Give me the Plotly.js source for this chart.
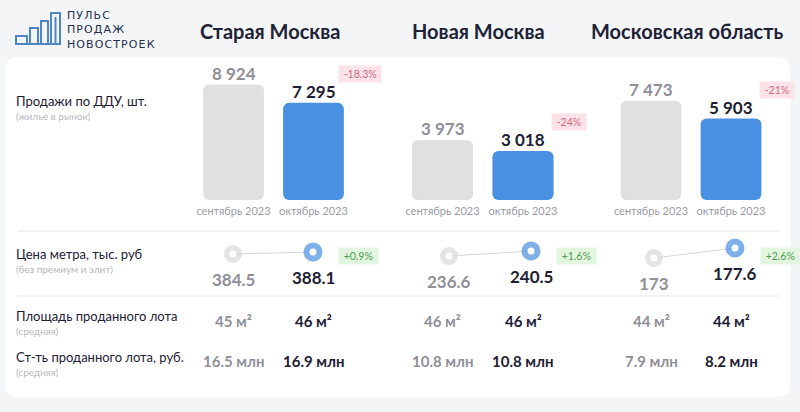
<!DOCTYPE html>
<html>
<head>
<meta charset="utf-8">
<script src="https://cdn.plot.ly/plotly-3.0.1.min.js"></script>
<style>
  body { margin: 0; background: #f4f5f7; }
  #chart { width: 800px; height: 412px; }
</style>
</head>
<body>
<div id="chart"></div>
<script>
var groups = ['Старая Москва', 'Новая Москва', 'Московская область'];
var months = ['сентябрь 2023', 'октябрь 2023'];
var sales = [[8924, 7295], [3973, 3018], [7473, 5903]];
var salesChange = ['-18.3%', '-24%', '-21%'];
var price = [[384.5, 388.1], [236.6, 240.5], [173, 177.6]];
var priceChange = ['+0.9%', '+1.6%', '+2.6%'];
var area = [[45, 46], [46, 46], [44, 44]];
var lotCost = [[16.5, 16.9], [10.8, 10.8], [7.9, 8.2]];
var rowLabels = ['Продажи по ДДУ, шт.', 'Цена метра, тыс. руб', 'Площадь проданного лота', 'Ст-ть проданного лота, руб.'];
var rowNotes = ['(жилье в рынок)', '(без премиум и элит)', '(средняя)', '(средняя)'];
var logoLines = ['ПУЛЬС', 'ПРОДАЖ', 'НОВОСТРОЕК'];

var W = 800, H = 412;
function px(x) { return x / W; }
function py(y) { return 1 - y / H; }
function thousands(v) { return String(v).replace(/\B(?=(\d{3})+(?!\d))/g, ' '); }

var FONT = 'Lato, "Open Sans", sans-serif';
var DARK = '#1d2034', GREY = '#8f8f98', NOTE = '#b7b7bf';
var BAR_GREY = '#e0e0e0', BLUE = '#4a90e2';
var PAD = 1350; // bars start a bit below zero so the small ones still show

var barX = ['x', 'x2', 'x3'];
var priceX = ['x4', 'x5', 'x6'];
var priceY = ['y4', 'y5', 'y6'];

var data = [];
var annotations = [];

// every text is anchored explicitly, paper refs otherwise pick top/bottom on their own
function note(o) {
    o.showarrow = false;
    if (!o.xanchor) o.xanchor = 'center';
    if (!o.yanchor) o.yanchor = 'middle';
    annotations.push(o);
}

groups.forEach(function(name, i) {
    data.push({
        type: 'bar',
        x: months,
        y: sales[i].map(function(v) { return v + PAD; }),
        base: -PAD,
        xaxis: barX[i],
        yaxis: 'y',
        marker: { color: [BAR_GREY, BLUE], cornerradius: 6 },
        hoverinfo: 'skip'
    });

    data.push({
        type: 'scatter',
        mode: 'lines+markers',
        x: months,
        y: price[i],
        xaxis: priceX[i],
        yaxis: priceY[i],
        cliponaxis: false,
        line: { color: '#d6d6da', width: 1 },
        marker: { size: [12.5, 13], color: '#ffffff', line: { color: ['#d9d9d9', BLUE], width: [5.5, 6] } },
        hoverinfo: 'skip'
    });

    note({
        text: name, xref: barX[i], x: 0.5, xshift: -4, yref: 'paper', y: py(31),
        font: { size: 20, weight: 700, color: '#1e2236' }
    });

    months.forEach(function(m, j) {
        var col = j === 0 ? GREY : DARK;
        note({
            text: thousands(sales[i][j]), xref: barX[i], x: m, yref: 'y', y: sales[i][j],
            yanchor: 'bottom', yshift: -1,
            font: { size: 17, weight: 700, color: col }
        });
        note({
            text: String(price[i][j]), xref: priceX[i], x: m, yref: priceY[i], y: price[i][j],
            yshift: -25, font: { size: 17, weight: 700, color: col }
        });
        note({
            text: area[i][j] + ' м²', xref: barX[i], x: m, yref: 'paper', y: py(321),
            font: { size: 15, weight: 700, color: col }
        });
        note({
            text: lotCost[i][j].toFixed(1) + ' млн', xref: barX[i], x: m, yref: 'paper', y: py(361),
            font: { size: 15, weight: 700, color: col }
        });
    });

    note({
        text: '\u00a0' + salesChange[i] + '\u00a0', xref: barX[i], x: months[1], yref: 'y', y: sales[i][1],
        xshift: 46, yshift: 29, bgcolor: '#fde3e8', borderpad: 2,
        font: { size: 10.5, color: '#d06a82' }
    });
    note({
        text: '\u00a0' + priceChange[i] + '\u00a0', xref: priceX[i], x: months[1], yref: 'paper', y: py(255.5),
        xshift: 45, bgcolor: '#e2f5df', borderpad: 2,
        font: { size: 10.5, color: '#4f9d55' }
    });
});

var labelY = [101, 254, 316, 357];
rowLabels.forEach(function(t, k) {
    note({
        text: t, xref: 'paper', x: px(14), xanchor: 'left', yref: 'paper', y: py(labelY[k]),
        font: { size: 13, color: DARK }
    });
    note({
        text: rowNotes[k], xref: 'paper', x: px(14), xanchor: 'left', yref: 'paper', y: py(labelY[k] + 15),
        font: { size: 10, color: NOTE }
    });
});

// logo words as one block, letters spread a little
note({
    text: logoLines.map(function(t) { return t.split('').join('\u200a'); }).join('<br>'),
    xref: 'paper', x: px(65), xanchor: 'left', yref: 'paper', y: py(30), align: 'left',
    font: { family: '"DejaVu Sans", sans-serif', size: 11, color: '#24304a' }
});

function roundRect(x0, y0, x1, y1, r) {
    function p(x, y) { return px(x) + ',' + py(y); }
    return 'M' + p(x0 + r, y0) + ' L' + p(x1 - r, y0) + ' Q' + p(x1, y0) + ' ' + p(x1, y0 + r) +
        ' L' + p(x1, y1 - r) + ' Q' + p(x1, y1) + ' ' + p(x1 - r, y1) +
        ' L' + p(x0 + r, y1) + ' Q' + p(x0, y1) + ' ' + p(x0, y1 - r) +
        ' L' + p(x0, y0 + r) + ' Q' + p(x0, y0) + ' ' + p(x0 + r, y0) + ' Z';
}

var shapes = [
    { type: 'path', xref: 'paper', yref: 'paper', path: roundRect(5, 57, 790, 397, 14),
      fillcolor: '#ffffff', line: { width: 0 }, layer: 'below' },
    { type: 'line', xref: 'paper', yref: 'paper', x0: px(18), x1: px(780), y0: py(231), y1: py(231),
      line: { color: '#e6e6ea', width: 1 } },
    { type: 'line', xref: 'paper', yref: 'paper', x0: px(18), x1: px(780), y0: py(296), y1: py(296),
      line: { color: '#e6e6ea', width: 1 } }
];

// logo icon
[[16, 27, 36], [30, 38, 28], [41, 48, 21], [51, 60, 13]].forEach(function(b) {
    shapes.push({
        type: 'path', xref: 'paper', yref: 'paper',
        path: 'M' + px(b[0]) + ',' + py(44) + ' L' + px(b[0]) + ',' + py(b[2]) +
              ' L' + px(b[1]) + ',' + py(b[2]) + ' L' + px(b[1]) + ',' + py(44),
        line: { color: '#4f86c6', width: 2 }
    });
});
shapes.push({ type: 'line', xref: 'paper', yref: 'paper', x0: px(15), x1: px(61), y0: py(44), y1: py(44),
    line: { color: '#4f86c6', width: 2 } });
shapes.push({ type: 'line', xref: 'paper', yref: 'paper', x0: px(55.5), x1: px(55.5), y0: py(44), y1: py(17),
    line: { color: '#4f86c6', width: 2 } });

function catAxis(lo, hi, showLabels, anchor) {
    return {
        domain: [px(lo), px(hi)], type: 'category', range: [-0.5, 1.5], anchor: anchor,
        showgrid: false, zeroline: false, showline: false, ticks: '',
        showticklabels: showLabels, ticklabelstandoff: 3,
        tickfont: { size: 11, color: '#9b9ba3' }, fixedrange: true
    };
}
function hiddenY(lo, hi, range, anchor) {
    return { domain: [py(hi), py(lo)], range: range, anchor: anchor, visible: false, fixedrange: true };
}

var layout = {
    width: W,
    height: H,
    margin: { l: 0, r: 0, t: 0, b: 0 },
    paper_bgcolor: '#f4f5f7',
    plot_bgcolor: 'rgba(0,0,0,0)',
    font: { family: FONT, color: DARK },
    showlegend: false,
    bargap: 0.24,
    xaxis: catAxis(193.5, 353.5, true, 'y'),
    xaxis2: catAxis(402.25, 563.25, true, 'y'),
    xaxis3: catAxis(611, 771, true, 'y'),
    xaxis4: catAxis(193, 353, false, 'y4'),
    xaxis5: catAxis(408, 572, false, 'y5'),
    xaxis6: catAxis(613.5, 775.5, false, 'y6'),
    yaxis: hiddenY(60, 200, [-PAD, 11110], 'x'),
    yaxis4: hiddenY(240, 270, [355.7, 409.7], 'x4'),
    yaxis5: hiddenY(240, 270, [225.7, 249.1], 'x5'),
    yaxis6: hiddenY(240, 270, [167.5, 181.3], 'x6'),
    annotations: annotations,
    shapes: shapes
};

Plotly.newPlot('chart', data, layout, { displayModeBar: false, staticPlot: true });
</script>
</body>
</html>
